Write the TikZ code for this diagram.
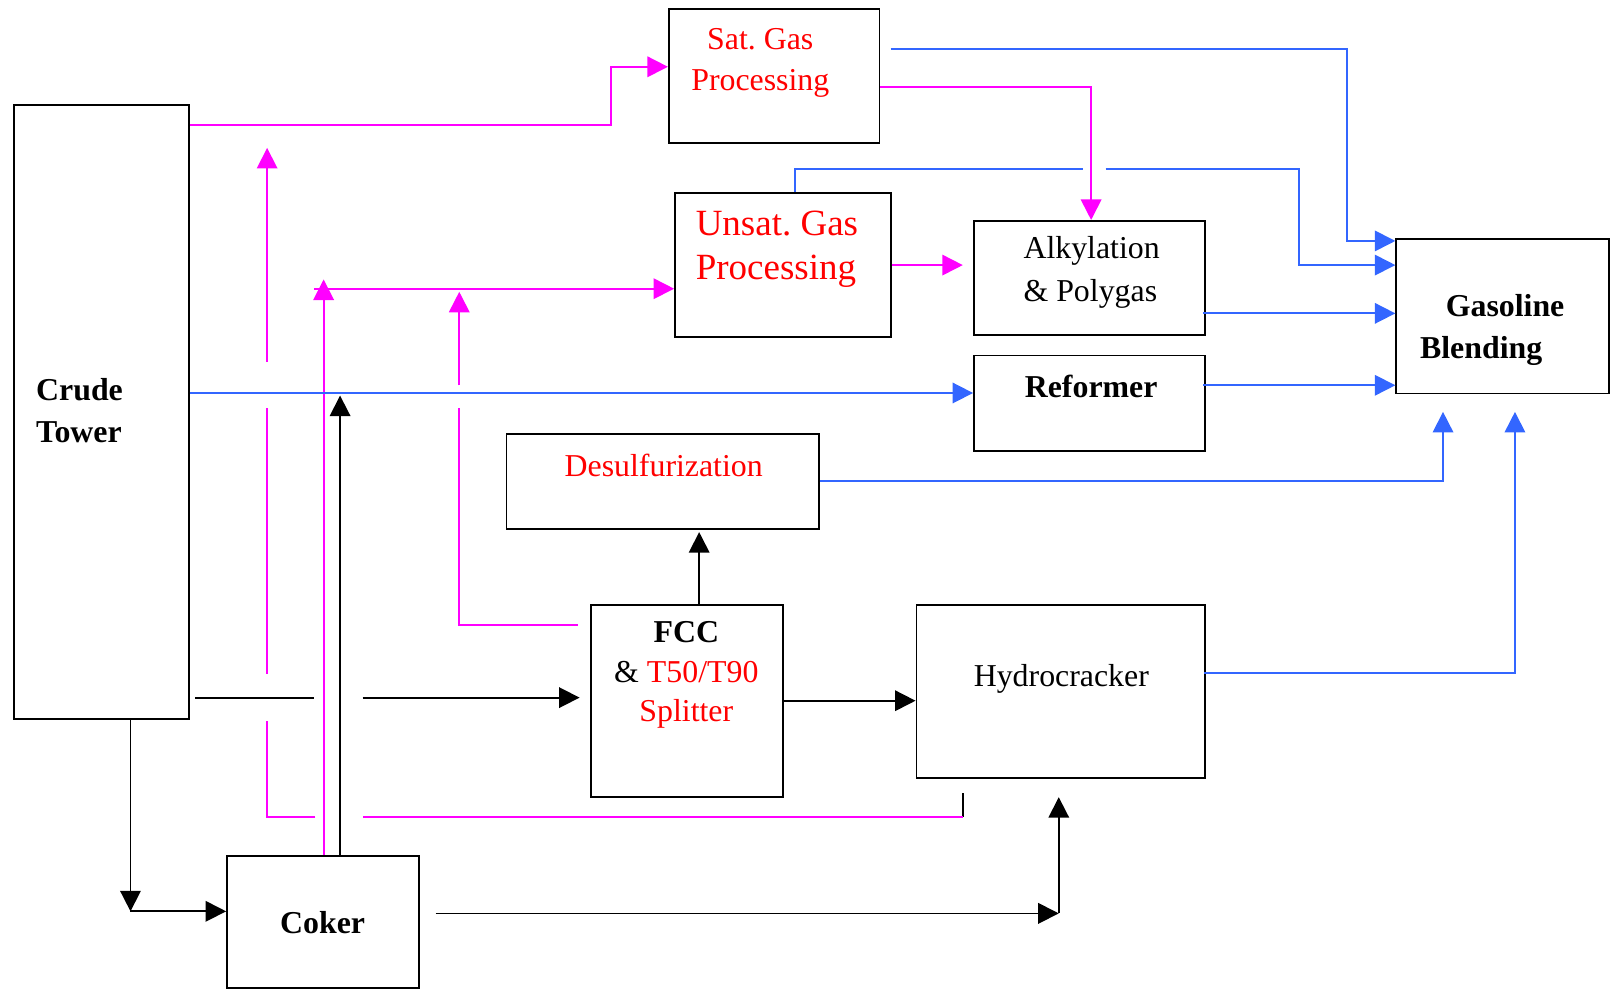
\documentclass[tikz,border=0pt]{standalone}
\usepackage{fontspec}
\setmainfont{Liberation Serif}
\usetikzlibrary{arrows.meta, positioning}
\definecolor{flowmagenta}{RGB}{255, 0, 255}
\definecolor{flowblue}{RGB}{51, 102, 255}
\definecolor{labelred}{RGB}{255, 0, 0}
\frenchspacing

\begin{document}
\begin{tikzpicture}[
    x=1pt, y=-1pt,
    unit/.style={rectangle, draw=black, line width=1.8pt, inner sep=0pt},
    txt/.style={font=\fontsize{31}{40}\selectfont, align=center, inner sep=0pt},
    redtxt/.style={txt, text=labelred},
    boldtxt/.style={txt, font=\fontsize{31}{41}\selectfont\bfseries},
    blk/.style={line width=1.7pt, draw=black},
    mag/.style={line width=1.7pt, draw=flowmagenta},
    blu/.style={line width=1.7pt, draw=flowblue},
    arrow/.style={-{Triangle[length=20pt,width=20pt]}}
]
\useasboundingbox (0,0) rectangle (1568,963);

% Units
\node (crude) [unit, minimum width=170, minimum height=598] at (99,401) {};
\node (sat) [unit, minimum width=205, minimum height=130] at (753.5,74) {};
\node (unsat) [unit, minimum width=210, minimum height=140] at (762,258) {};
\node (alky) [unit, minimum width=225, minimum height=111] at (1060.5,270.5) {};
\node (reformer) [unit, minimum width=225, minimum height=93] at (1060.5,392.5) {};
\node (blending) [unit, minimum width=207, minimum height=150] at (1462.5,308) {};
\node (desulf) [unit, minimum width=304, minimum height=93] at (645,468.5) {};
\node (fcc) [unit, minimum width=187, minimum height=187] at (668.5,682.5) {};
\node (hydro) [unit, minimum width=281, minimum height=168] at (1032.5,673) {};
\node (coker) [unit, minimum width=187, minimum height=129] at (314.5,897.5) {};

% Labels
\node (crudeText) [boldtxt, anchor=west, align=left] at (35,400) {Crude\\Tower};
\node (satText) [redtxt] at (740,61) {Sat. Gas\\Processing};
\node (unsatText) [redtxt, anchor=west, align=left, font=\fontsize{36}{43}\selectfont] at (677,242.5) {Unsat. Gas\\Processing};
\node (alkyText) [txt, anchor=west, align=left, font=\fontsize{31}{42}\selectfont] at (996,265.5) {Alkylation\\\& Polygas};
\node (reformerText) [boldtxt] at (1062,376) {Reformer};
\node (blendingText) [boldtxt, anchor=west, align=left] at (1382,321.5) {\hspace*{25pt}Gasoline\\Blending};
\node (desulfText) [redtxt] at (646,453) {Desulfurization};
\node (fccText) [boldtxt, font=\fontsize{31}{38.5}\selectfont] at (668,657) {\textbf{FCC}\\\mdseries\& \textcolor{labelred}{T50/T90}\\\mdseries\textcolor{labelred}{Splitter}};
\node (hydroText) [txt] at (1033,661) {Hydrocracker};
\node (cokerText) [boldtxt] at (314,898) {Coker};

\coordinate (crudeDown) at (127,887);
\coordinate (cokerCorner) at (1030.5,889);

% Black flows
\draw [blk, arrow] (crude.south -| crudeDown) -- (crudeDown);
\draw [blk, arrow] (crudeDown) -- (coker.west |- crudeDown);
\draw [blk] ([xshift=5]crude.east |- 0,679) -- (306,679);
\draw [blk, arrow, shorten >=10] (353,679) -- (fcc.west |- 0,679);
\draw [blk, arrow] (coker.north -| 331,0) -- (331,385);
\draw [blk, arrow] (fcc.east |- 0,682) -- (hydro.west |- 0,682);
\draw [blk, arrow, shorten >=2] (fcc.north -| 680.5,0) -- (desulf.south -| 680.5,0);
\draw [blk, arrow] ([xshift=15]coker.east |- cokerCorner) -- (cokerCorner);
\draw [blk, arrow, shorten >=18] (cokerCorner) -- (hydro.south -| cokerCorner);
\draw [blk] (937,772) -- (937,795);

% Magenta flows
\draw [mag, arrow] (crude.east |- 0,122) -- (594.5,122) |- (sat.west |- 0,65);
\draw [mag] (937,795) -- (353,795);
\draw [mag] (307,795) -- (260,795) -- (260,702);
\draw [mag] (260,656) -- (260,397);
\draw [mag, arrow] (260,352) -- (260,144);
\draw [mag, arrow] (coker.north -| 315,0) -- (315,272);
\draw [mag, arrow] (306,281) -- (unsat.west |- 0,281);
\draw [mag] ([xshift=-12]fcc.west |- 0,608) -| (447,397);
\draw [mag, arrow] (447,375) -- (447,284);
\draw [mag, arrow] (sat.east |- 0,85) -| (alky.north -| 1062,0);
\draw [mag, arrow, shorten >=10] (unsat.east |- 0,258) -- (alky.west |- 0,258);

% Blue flows
\draw [blu, arrow] ([xshift=10]sat.east |- 0,47.5) -| (1311,234.5) -- (blending.west |- 0,234.5);
\draw [blu] (unsat.north -| 773.5,0) |- (1054,164.5);
\draw [blu, arrow] (1076,164.5) -| (1264,258) -- (blending.west |- 0,258);
\draw [blu, arrow] ([xshift=-3]alky.east |- 0,305) -- (blending.west |- 0,305);
\draw [blu, arrow] ([xshift=-3]reformer.east |- 0,375) -- (blending.west |- 0,375);
\draw [blu, arrow] (crude.east |- 0,382.5) -- (reformer.west |- 0,382.5);
\draw [blu, arrow, shorten >=17] (desulf.east |- 0,468) -| (blending.south -| 1404.5,0);
\draw [blu, arrow, shorten >=17] ([xshift=-2]hydro.east |- 0,655) -| (blending.south -| 1474.5,0);

\end{tikzpicture}
\end{document}
